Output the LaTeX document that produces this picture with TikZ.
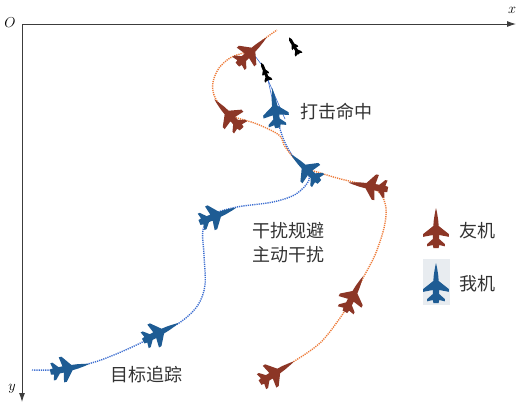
\documentclass[tikz,border=0pt]{standalone}
\usepackage{fontspec}
\newfontfamily\cjk{Noto Sans CJK SC}
\usetikzlibrary{arrows.meta}
\definecolor{jetred}{RGB}{140,54,38}
\definecolor{jetblue}{RGB}{30,92,148}
\definecolor{trackred}{RGB}{238,124,58}
\definecolor{trackblue}{RGB}{58,108,208}
\definecolor{axisgray}{RGB}{60,60,60}
\definecolor{legendbg}{RGB}{232,236,240}
\begin{document}
\begin{tikzpicture}[x=1pt,y=-1pt,
  % fighter silhouette, nose pointing up on the page
  jet/.pic={\fill[#1] (0,-20) -- (1.1,-15) -- (2.2,-8) -- (2.7,-2) -- (12.8,6) -- (12.8,8.8)
     -- (3.2,7) -- (3.2,11) -- (8.8,16) -- (8.8,18.3) -- (3.2,17) -- (2.6,20) -- (-2.6,20)
     -- (-3.2,17) -- (-8.8,18.3) -- (-8.8,16) -- (-3.2,11) -- (-3.2,7) -- (-12.8,8.8)
     -- (-12.8,6) -- (-2.7,-2) -- (-2.2,-8) -- (-1.1,-15) -- cycle;},
  % missile silhouette, nose pointing up on the page
  missile/.pic={\fill[black] (0,-10) -- (1.5,-7) -- (1.5,-2) -- (3.4,1) -- (3.4,2.8)
     -- (1.5,1.8) -- (1.5,5) -- (3.8,8) -- (3.8,10) -- (1.5,9) -- (0,9.5)
     -- (-1.5,9) -- (-3.8,10) -- (-3.8,8) -- (-1.5,5) -- (-1.5,1.8) -- (-3.4,2.8)
     -- (-3.4,1) -- (-1.5,-2) -- (-1.5,-7) -- cycle;},
  axis/.style={draw=axisgray,line width=0.9pt,-{Latex[length=9pt,width=6pt]}},
  track/.style={line width=1.4pt,dash pattern=on 1.2pt off 1.0pt,smooth,tension=0.55},
  lock/.style={draw=trackblue,line width=0.6pt},
  label/.style={font=\cjk\fontsize{18}{22}\selectfont,text=black!80,inner sep=0pt},
  axlabel/.style={font=\fontsize{15}{18}\selectfont,inner sep=0pt}]
\useasboundingbox[fill=white] (0,0) rectangle (519,405);

% axes
\coordinate (O) at (22,24);
\coordinate (xend) at (516,24);
\coordinate (yend) at (22,402);
\draw[axis] (O) -- (xend);
\draw[axis] (O) -- (yend);
\node[axlabel] (Olab) at (10,23) {$O$};
\node[axlabel] (xlab) at (512,10) {$x$};
\node[axlabel] (ylab) at (12,389) {$y$};

% own aircraft track
\draw[trackblue,track] plot coordinates {(32,370) (53,370) (70,368) (98,361) (130,348)
  (160,333) (182,321) (198,305) (205,285) (204,255) (203,230) (212,215) (237,207)
  (273,202) (296,194) (309,180) (305,168) (292,155) (283,138) (277,118)};

% friendly aircraft track
\draw[trackred,track] plot coordinates {(278,370) (293,362) (320,343) (340,318) (353,297)
  (363,278) (375,255) (384,228) (386,208) (380,193) (367,186) (353,182) (337,178)
  (317,172) (305,168) (293,157) (284,145) (279,135) (257,124) (235,117) (222,108)
  (214,95) (213,82) (219,68) (230,58) (243,53) (252,50) (263,40) (277,30)};

% missiles and lock lines
\pic (m1) [rotate=22] at (265,72) {missile};
\pic (m2) [rotate=30] at (294,46) {missile};
\coordinate (m1tail) at (268,80);
\coordinate (m1nose) at (261,64);
\coordinate (r5tail) at (255,56);
\coordinate (b5wing) at (285,119);
\coordinate (b5nose) at (272,98);
\draw[lock] (m1nose) -- (r5tail);
\draw[lock] (m1tail) -- (b5wing);
\draw[lock] (m1tail) -- (b5nose);

% own aircraft
\pic (b1) [rotate=-78] at (70,368) {jet=jetblue};
\pic (b2) [rotate=-63] at (161,332) {jet=jetblue};
\pic (b3) [rotate=-68] at (218,215) {jet=jetblue};
\pic (b4) [rotate=46] at (305,168) {jet=jetblue};
\pic (b5) [rotate=8] at (275,108) {jet=jetblue};

% friendly aircraft
\pic (r1) [rotate=-58] at (277,372) {jet=jetred};
\pic (r2) [rotate=-27] at (354,294) {jet=jetred};
\pic (r3) [rotate=80] at (368,186) {jet=jetred};
\pic (r4) [rotate=43] at (228,114) {jet=jetred};
\pic (r5) [rotate=-47] at (252,51) {jet=jetred};

% phase labels
\node[label] (hit) at (336,112) {打击命中};
\node[label] (evade) at (288,231) {干扰规避};
\node[label] (jam) at (288,255) {主动干扰};
\node[label] (track) at (146,375) {目标追踪};

% legend
\fill[legendbg] (423,259) rectangle (450,305);
\pic (legr) at (436,228) {jet=jetred};
\pic (legb) at (436,283) {jet=jetblue};
\node[label] (friend) at (477,231) {友机};
\node[label] (own) at (477,284) {我机};
\end{tikzpicture}
\end{document}
